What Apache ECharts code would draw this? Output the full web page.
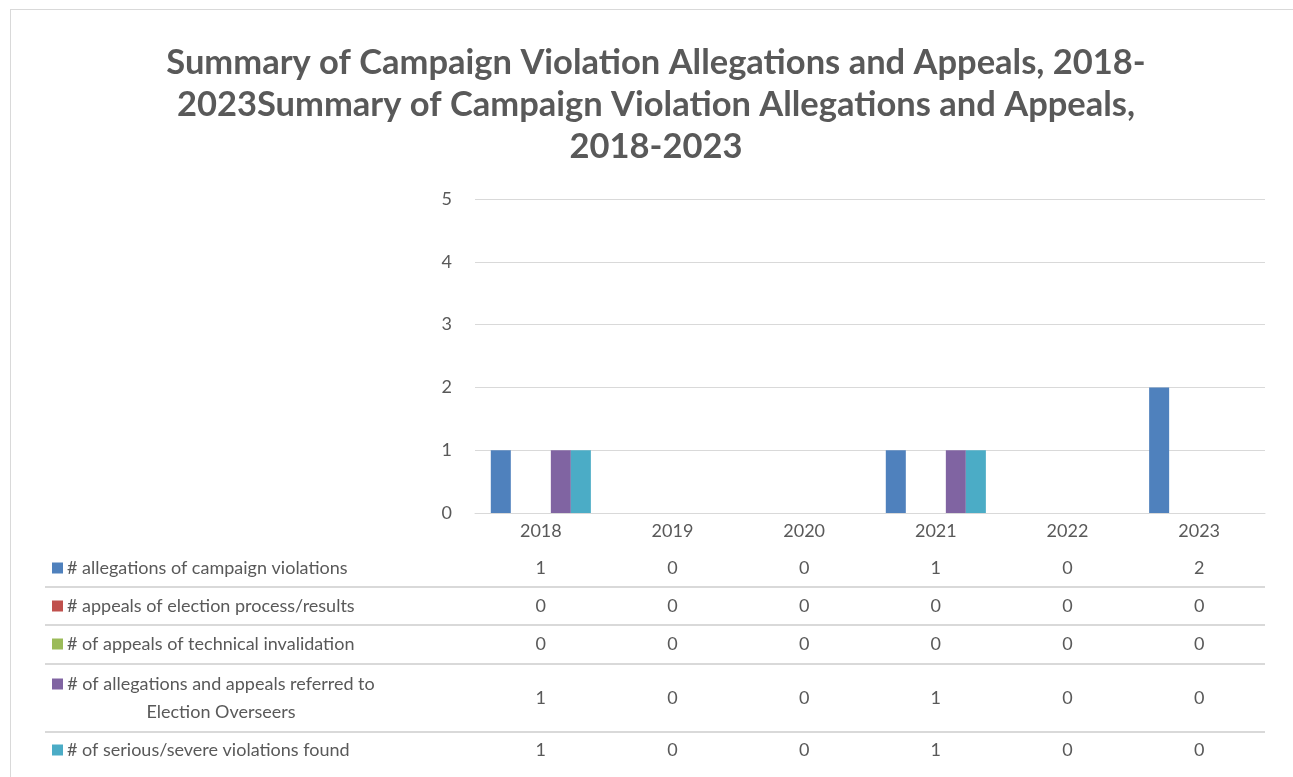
<!DOCTYPE html>
<html>
<head>
<meta charset="utf-8">
<title>Campaign Violation Allegations and Appeals</title>
<script src="https://cdn.jsdelivr.net/npm/echarts@6/dist/echarts.min.js"></script>
<style>
html, body { margin: 0; padding: 0; background: #fff; overflow: hidden; }
.wrap { width: 1293px; height: 777px; position: relative; overflow: hidden; }
#main { width: 1293px; height: 777px; }
/* outer chart frame, only top and left edges are visible in the picture */
.frame {
  position: absolute; left: 10px; top: 9px; width: 1400px; height: 900px;
  border-left: 1px solid #d9d9d9; border-top: 1px solid #d9d9d9;
  pointer-events: none;
}
</style>
</head>
<body>
<div class="wrap">
  <div id="main"></div>
  <div class="frame"></div>
</div>
<script>
// data
var years = ["2018", "2019", "2020", "2021", "2022", "2023"];
var seriesNames = [
  "# allegations of campaign violations",
  "# appeals of election process/results",
  "# of appeals of technical invalidation",
  "# of allegations and appeals referred to\nElection Overseers",
  "# of serious/severe violations found"
];
var allegations = [1, 0, 0, 1, 0, 2];
var appealsProcess = [0, 0, 0, 0, 0, 0];
var appealsTechnical = [0, 0, 0, 0, 0, 0];
var referredOverseers = [1, 0, 0, 1, 0, 0];
var seriousFound = [1, 0, 0, 1, 0, 0];
var yTicks = [0, 1, 2, 3, 4, 5];

var seriesData = [allegations, appealsProcess, appealsTechnical, referredOverseers, seriousFound];
var colors = ["#4f81bd", "#c0504d", "#9bbb59", "#8064a2", "#4bacc6"];

var font = "Lato, 'Open Sans', sans-serif";
var textColor = "#595959";
var lineColor = "#d9d9d9";

var chart = echarts.init(document.getElementById('main'), null, {renderer: 'canvas'});

chart.setOption({
  animation: false,
  color: colors,
  title: {
    text: "Summary of Campaign Violation Allegations and Appeals, 2018-\n" +
          "2023Summary of Campaign Violation Allegations and Appeals,\n" +
          "2018-2023",
    left: 651,
    top: 37,
    textAlign: 'center',
    textStyle: {
      fontFamily: font,
      fontSize: 34.5,
      fontWeight: 'bold',
      color: textColor,
      lineHeight: 42
    }
  },
  legend: { show: false },
  grid: { left: 475, right: 28, top: 199, bottom: 264 },
  xAxis: {
    type: 'category',
    data: years,
    axisLine: { lineStyle: { color: lineColor, width: 1 } },
    axisTick: { show: false },
    axisLabel: { color: textColor, fontFamily: font, fontSize: 18, margin: 9 }
  },
  yAxis: {
    type: 'value',
    min: yTicks[0],
    max: yTicks[yTicks.length - 1],
    interval: 1,
    axisLine: { show: false },
    axisTick: { show: false },
    axisLabel: { color: textColor, fontFamily: font, fontSize: 18, margin: 23 },
    splitLine: { lineStyle: { color: lineColor, width: 1 } }
  },
  series: seriesNames.map(function (name, i) {
    return {
      name: name.replace("\n", " "),
      type: 'bar',
      data: seriesData[i],
      barGap: '0%',
      barCategoryGap: '24%'
    };
  })
});

// data table under the plot, columns placed through the category axis
var rowCenters = [568, 606, 644, 698, 750];
var rowLines = [587, 625, 664, 732];
var tableLeft = 45, tableRight = 1265;
var keyX = 52, keySize = 11, labelX = 67;

var graphics = [];
rowLines.forEach(function (y) {
  graphics.push({
    type: 'line',
    shape: { x1: tableLeft, y1: y, x2: tableRight, y2: y },
    style: { stroke: lineColor, lineWidth: 2 },
    silent: true
  });
});

seriesNames.forEach(function (name, i) {
  var cy = rowCenters[i];
  var twoLines = name.indexOf("\n") >= 0;
  var keyY = twoLines ? cy - 14 : cy;
  graphics.push({
    type: 'rect',
    shape: { x: keyX, y: keyY - keySize / 2, width: keySize, height: keySize },
    style: { fill: colors[i] },
    silent: true
  });
  graphics.push({
    type: 'text',
    x: twoLines ? 221 : labelX,
    y: cy,
    style: {
      text: name,
      fill: textColor,
      fontFamily: font,
      fontSize: 18,
      lineHeight: 28,
      align: twoLines ? 'center' : 'left',
      verticalAlign: 'middle'
    },
    silent: true
  });
  seriesData[i].forEach(function (v, j) {
    var px = chart.convertToPixel({xAxisIndex: 0}, years[j]);
    graphics.push({
      type: 'text',
      x: px,
      y: cy,
      style: {
        text: String(v),
        fill: textColor,
        fontFamily: font,
        fontSize: 18,
        align: 'center',
        verticalAlign: 'middle'
      },
      silent: true
    });
  });
});

chart.setOption({ graphic: graphics });
</script>
</body>
</html>
